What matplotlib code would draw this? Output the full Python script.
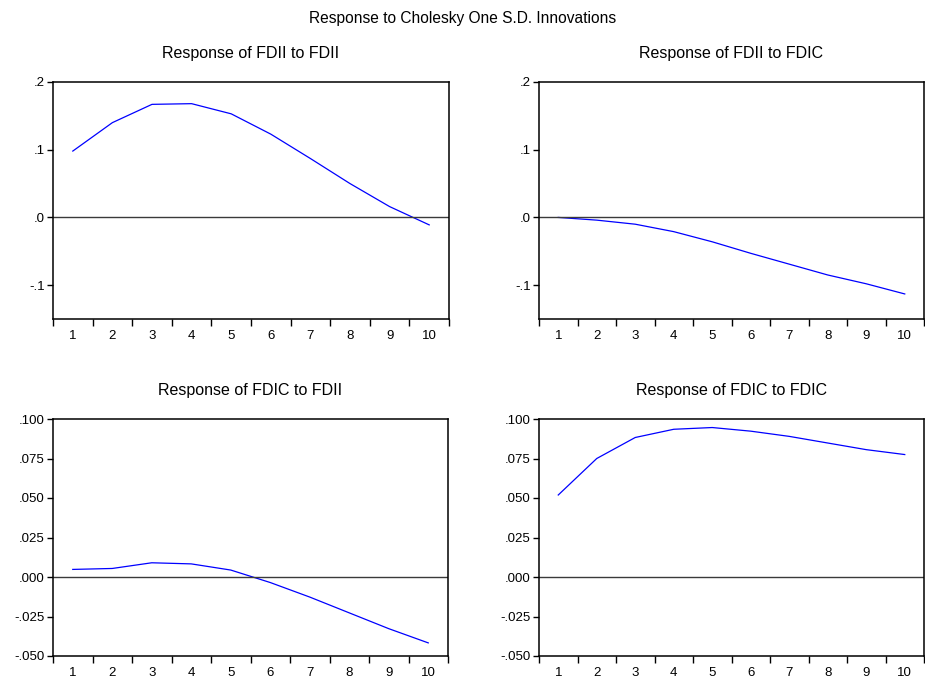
import matplotlib
matplotlib.use("Agg")
import matplotlib.pyplot as plt
import numpy as np

plt.rcParams['font.family'] = ['Liberation Sans', 'DejaVu Sans']

# periods and impulse responses
periods = list(range(1, 11))

fdii_to_fdii = [0.098, 0.140, 0.167, 0.168, 0.153, 0.123, 0.087, 0.050, 0.016, -0.011]
fdii_to_fdic = [0.000, -0.004, -0.010, -0.021, -0.036, -0.053, -0.069, -0.085, -0.098, -0.113]
fdic_to_fdii = [0.0048, 0.0054, 0.0090, 0.0083, 0.0044, -0.0035, -0.0127, -0.0227, -0.0327, -0.0417]
fdic_to_fdic = [0.0519, 0.0750, 0.0883, 0.0935, 0.0946, 0.0923, 0.0890, 0.0848, 0.0806, 0.0775]

top_ticks = [-0.1, 0.0, 0.1, 0.2]
bottom_ticks = [-0.050, -0.025, 0.000, 0.025, 0.050, 0.075, 0.100]

W, H = 925, 679
fig = plt.figure(figsize=(W / 100, H / 100), dpi=100)


def px_axes(left, top, right, bottom):
    return fig.add_axes([left / W, 1 - bottom / H, (right - left) / W, (bottom - top) / H])


def eviews_label(v, decimals):
    # EViews style: no leading zero (".1", "-.025")
    s = f"{v:.{decimals}f}"
    if s.startswith("-0"):
        s = "-" + s[2:]
    elif s.startswith("0"):
        s = s[1:]
    return s


def draw_panel(ax, values, title, ticks, ylim, decimals):
    ax.plot(periods, values, color='#0000ff', lw=0.9)
    ax.axhline(0, color='#3a3a3a', lw=1.0)
    ax.set_xlim(0.5, 10.5)
    ax.set_ylim(*ylim)
    ax.set_xticks(periods)
    ax.set_xticklabels([str(p) for p in periods])
    ax.set_xticks(np.arange(0.5, 11, 1.0), minor=True)
    ax.tick_params(axis='x', which='major', length=0, pad=8, labelsize=9.5)
    ax.tick_params(axis='x', which='minor', length=5, width=1.0, direction='out')
    ax.set_yticks(ticks)
    ax.set_yticklabels([eviews_label(t, decimals) for t in ticks])
    ax.tick_params(axis='y', length=4, width=1.0, pad=2, labelsize=9.5)
    for sp in ax.spines.values():
        sp.set_linewidth(1.1)
    ax.set_title(title, fontsize=11.5, pad=17)


ax1 = px_axes(53, 82, 449, 319)
draw_panel(ax1, fdii_to_fdii, "Response of FDII to FDII", top_ticks, (-0.15, 0.2), 1)
ax2 = px_axes(539, 82, 924, 319)
draw_panel(ax2, fdii_to_fdic, "Response of FDII to FDIC", top_ticks, (-0.15, 0.2), 1)
ax3 = px_axes(53, 419, 448, 656)
draw_panel(ax3, fdic_to_fdii, "Response of FDIC to FDII", bottom_ticks, (-0.050, 0.100), 3)
ax4 = px_axes(539, 419, 924, 656)
draw_panel(ax4, fdic_to_fdic, "Response of FDIC to FDIC", bottom_ticks, (-0.050, 0.100), 3)

fig.text(463 / W, 1 - 18 / H, "Response to Cholesky One S.D. Innovations",
         ha='center', va='center', fontsize=11.2)

fig.savefig("out.png", dpi=100)
